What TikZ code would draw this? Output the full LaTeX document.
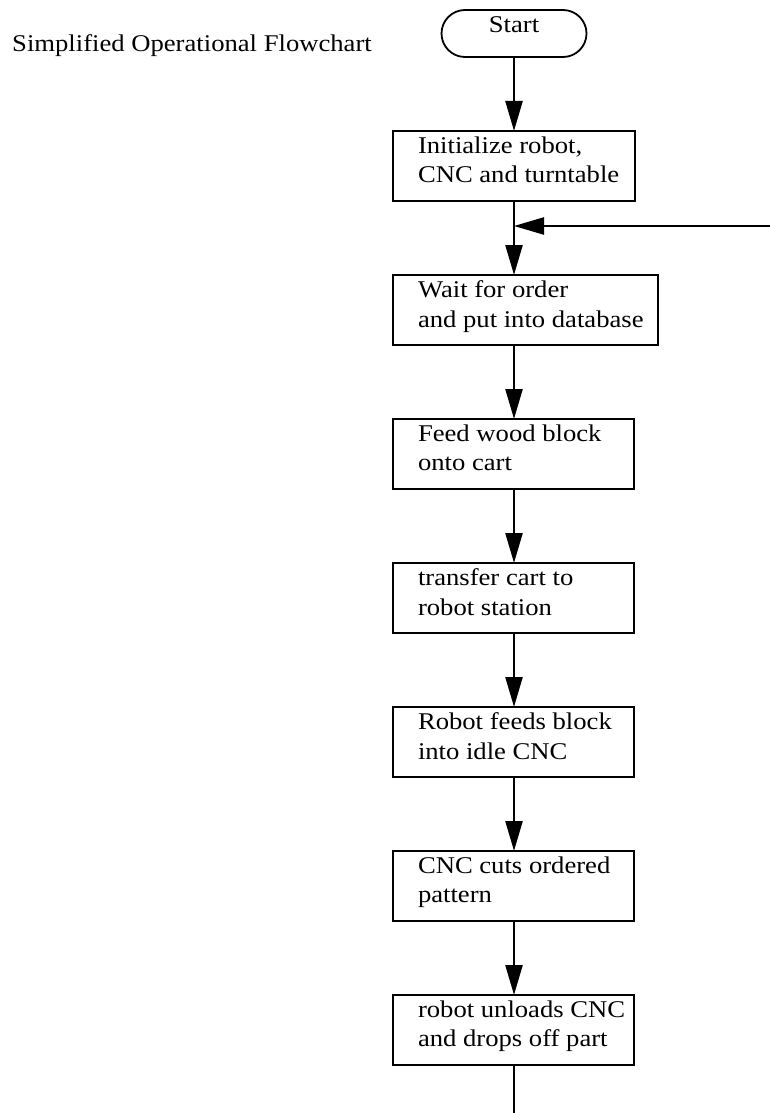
\documentclass[tikz,border=0pt]{standalone}
\usepackage{fontspec}
\setmainfont{Liberation Serif}[FakeStretch=1.11]
\usetikzlibrary{arrows.meta}
\begin{document}
\begin{tikzpicture}[x=1pt,y=-1pt,
  font=\fontsize{24}{29.5}\selectfont,
  box/.style={draw, line width=2.4pt, rectangle, minimum height=70pt, inner sep=0pt, outer sep=0pt, anchor=north west},
  txt/.style={anchor=north west, inner sep=0pt, outer sep=0pt, align=left},
  flow/.style={line width=2.4pt, -{Triangle[length=30pt,width=17pt]}},
  plain/.style={line width=2.4pt}]
\path[use as bounding box] (0,0) rectangle (770,1113);

\node[anchor=base west, inner sep=0pt] (title) at (12,52) {Simplified Operational Flowchart};

\node[draw, line width=1.8pt, rounded corners=23.5pt, minimum width=145pt, minimum height=47pt,
      inner sep=0pt, outer sep=0pt, text height=23pt, text depth=24pt] (st) at (514,33.5) {Start};

\node[box, minimum width=242pt] (b1) at (393,131) {};
\node[box, minimum width=265pt] (b2) at (393,275) {};
\node[box, minimum width=241pt] (b3) at (393,419) {};
\node[box, minimum width=241pt] (b4) at (393,563) {};
\node[box, minimum width=241pt] (b5) at (393,707) {};
\node[box, minimum width=241pt] (b6) at (393,851) {};
\node[box, minimum width=241pt] (b7) at (393,995) {};

\node[txt] (t1) at ([shift={(25,5.6)}]b1.north west) {Initialize robot,\\CNC and turntable};
\node[txt] (t2) at ([shift={(25,5.6)}]b2.north west) {Wait for order\\and put into database};
\node[txt] (t3) at ([shift={(25,5.6)}]b3.north west) {Feed wood block\\onto cart};
\node[txt] (t4) at ([shift={(25,5.6)}]b4.north west) {transfer cart to\\robot station};
\node[txt] (t5) at ([shift={(25,5.6)}]b5.north west) {Robot feeds block\\into idle CNC};
\node[txt] (t6) at ([shift={(25,5.6)}]b6.north west) {CNC cuts ordered\\pattern};
\node[txt] (t7) at ([shift={(25,5.6)}]b7.north west) {robot unloads CNC\\and drops off part};

\coordinate (j) at (514,226);
\coordinate (r) at (770,226);
\coordinate (e) at (514,1113);

\draw[flow] (st.south) -- (b1.north -| st.south);
\draw[plain] (b1.south -| st.south) -- (j);
\draw[flow] (j) -- (b2.north -| st.south);
\draw[flow] (r) -- (j);
\draw[flow] (b2.south -| st.south) -- (b3.north -| st.south);
\draw[flow] (b3.south -| st.south) -- (b4.north -| st.south);
\draw[flow] (b4.south -| st.south) -- (b5.north -| st.south);
\draw[flow] (b5.south -| st.south) -- (b6.north -| st.south);
\draw[flow] (b6.south -| st.south) -- (b7.north -| st.south);
\draw[plain] (b7.south -| st.south) -- (e);
\end{tikzpicture}
\end{document}
